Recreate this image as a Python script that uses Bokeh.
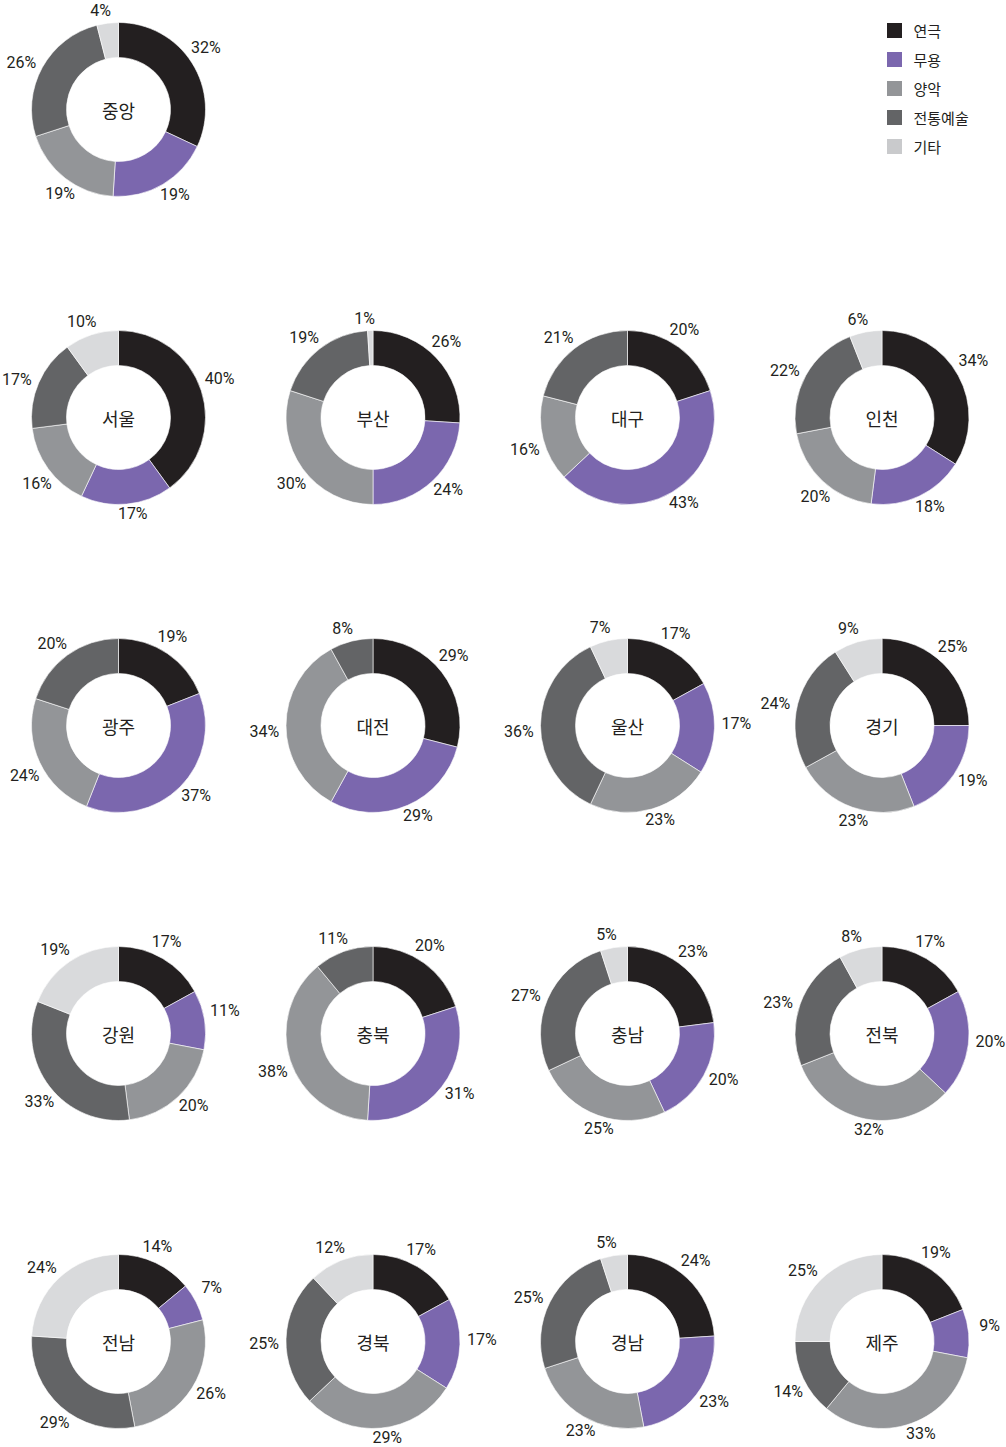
import math
from bokeh.plotting import figure
from bokeh.models import Range1d, ColumnDataSource
from bokeh.core.properties import value
from bokeh.embed import file_html
from bokeh.resources import INLINE

# ---- data ----
regions = ["중앙", "서울", "부산", "대구", "인천", "광주", "대전", "울산", "경기",
           "강원", "충북", "충남", "전북", "전남", "경북", "경남", "제주"]
categories = ["연극", "무용", "양악", "전통예술", "기타"]
theatre = [32, 40, 26, 20, 34, 19, 29, 17, 25, 17, 20, 23, 17, 14, 17, 24, 19]
dance = [19, 17, 24, 43, 18, 37, 29, 17, 19, 11, 31, 20, 20, 7, 17, 23, 9]
western = [19, 16, 30, 16, 20, 24, 34, 23, 23, 20, 38, 25, 32, 26, 29, 23, 33]
traditional = [26, 17, 19, 21, 22, 20, 8, 36, 24, 33, 11, 27, 23, 29, 25, 25, 14]
other = [4, 10, 1, 0, 6, 0, 0, 7, 9, 19, 0, 5, 8, 24, 12, 5, 25]
series = [theatre, dance, western, traditional, other]
colors = ["#231f20", "#7b67ae", "#939598", "#636466", "#d9dadc"]
legend_colors = ["#231f20", "#7b67ae", "#939598", "#636466", "#c9cacc"]

H = 1447
W_FIG, H_FIG = 1006, 1447

p = figure(width=W_FIG, height=H_FIG, output_backend="svg", toolbar_location=None,
           x_range=Range1d(0, W_FIG), y_range=Range1d(H - H_FIG, H),
           min_border=0, min_border_left=0, min_border_right=0,
           min_border_top=0, min_border_bottom=0)
p.axis.visible = False
p.grid.visible = False
p.outline_line_color = None
p.background_fill_color = "white"

def center_of(i):
    if i == 0:
        return 118, 109
    k = i - 1
    col, row = k % 4, k // 4
    return 118 + 254.5 * col, 417 + 308 * row

NUM_FONT = value("Roboto")
R_OUT, R_IN = 87, 52
ROT = math.radians(-3)
wx, wy, ws, we, wc = [], [], [], [], []
lx, ly, lt = [], [], []
cx_l, cy_l, ct = [], [], []
for i, reg in enumerate(regions):
    cx, cy = center_of(i)
    vals = [s[i] for s in series]
    total = sum(vals)
    cum = 0.0
    for j, v in enumerate(vals):
        if v <= 0:
            continue
        f0 = cum / total
        f1 = (cum + v) / total
        cum += v
        wx.append(cx); wy.append(H - cy)
        ws.append(math.pi / 2 - 2 * math.pi * f0)
        we.append(math.pi / 2 - 2 * math.pi * f1)
        wc.append(colors[j])
        th = 2 * math.pi * (f0 + f1) / 2 + ROT
        r = 99 + 10 * abs(math.sin(th)) - 3 * max(0.0, -math.cos(th))
        lx.append(cx + r * math.sin(th))
        ly.append(H - cy + r * math.cos(th))
        lt.append(f"{v}%")
    cx_l.append(cx); cy_l.append(H - cy); ct.append(reg)

src = ColumnDataSource(dict(x=wx, y=wy, s=ws, e=we, c=wc))
p.annular_wedge(x="x", y="y", inner_radius=R_IN, outer_radius=R_OUT,
                start_angle="s", end_angle="e", direction="clock",
                fill_color="c", line_color="white", line_width=0.6, source=src)

p.text(x=lx, y=ly, text=lt, text_align="center", text_baseline="middle",
       text_font=NUM_FONT, text_font_size="16px", text_color="#231f20")

p.text(x=cx_l, y=cy_l, text=ct, text_align="center", text_baseline="middle",
       text_font=value("Noto Sans CJK KR"), text_font_size="18px",
       text_color="#231f20")

# legend
leg_y = [30 + 29 * k for k in range(len(categories))]
p.rect(x=[894] * 5, y=[H - y for y in leg_y], width=15, height=15,
       fill_color=legend_colors, line_color=None)
p.text(x=[913] * 5, y=[H - y for y in leg_y], text=categories, text_align="left",
       text_baseline="middle", text_font=value("Noto Sans CJK KR"),
       text_font_size="15px", text_color="#231f20")

open("out.html", "w").write(file_html(p, INLINE))
